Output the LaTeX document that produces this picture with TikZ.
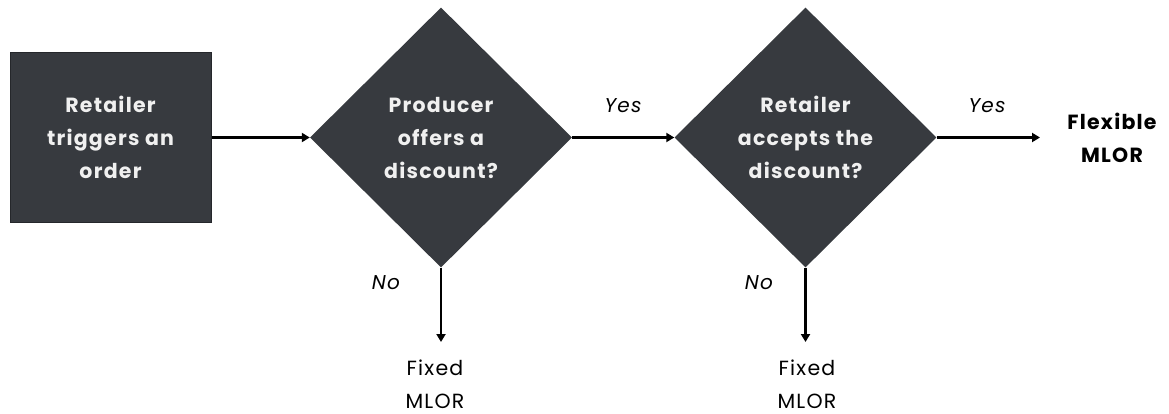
\documentclass[tikz,border=0pt]{standalone}
\usepackage{fontspec}
\setmainfont{Poppins}[LetterSpace=6]
\usetikzlibrary{shapes.geometric,arrows.meta}
\definecolor{boxfill}{HTML}{373A3F}
\definecolor{boxedge}{HTML}{25272B}
\tikzset{
  base/.style={font=\fontsize{20.5}{33}\selectfont, align=center},
  procbox/.style={base, draw=boxedge, line width=1pt, fill=boxfill, text=white!94!black, font=\fontsize{20.5}{33}\selectfont\bfseries, minimum width=201pt, minimum height=170pt, inner sep=0pt},
  decision/.style={base, diamond, fill=boxfill, text=white!94!black, font=\fontsize{20.5}{33}\selectfont\bfseries, minimum width=262pt, minimum height=260pt, inner sep=0pt},
  outcome/.style={base, text=black},
  lbl/.style={font=\fontsize{20}{22}\selectfont\itshape, text=black},
  conn/.style={line width=2.5pt, -{Triangle[length=8pt,width=9pt]}},
}
\begin{document}
\begin{tikzpicture}[x=1pt,y=-1pt]
\useasboundingbox (0,0) rectangle (1169,414);
\node[procbox] (start) at (110.5,137.5) {Retailer\\triggers an\\order};
\node[decision] (d1) at (441,137.5) {Producer\\offers a\\discount?};
\node[decision] (d2) at (805.5,137.5) {Retailer\\accepts the\\discount?};
\node[outcome, font=\fontsize{20.5}{33}\selectfont\bfseries] (flex) at (1112,138) {Flexible\\MLOR};
\node[outcome] (fix1) at (435,384) {Fixed\\MLOR};
\node[outcome] (fix2) at (807,384) {Fixed\\MLOR};
\coordinate (f1top) at (441,342);
\coordinate (f2top) at (805.5,342);
\coordinate (flexin) at (1040,137.5);
\draw[conn] (start.east) -- (d1.west);
\draw[conn] (d1.east) -- (d2.west);
\draw[conn] (d2.east) -- (flexin);
\draw[conn] (d1.south) -- (f1top);
\draw[conn] (d2.south) -- (f2top);
\node[lbl] (yes1) at (623,106) {Yes};
\node[lbl] (yes2) at (987,106) {Yes};
\node[lbl] (no1) at (386,283) {No};
\node[lbl] (no2) at (759,283) {No};
\end{tikzpicture}
\end{document}
